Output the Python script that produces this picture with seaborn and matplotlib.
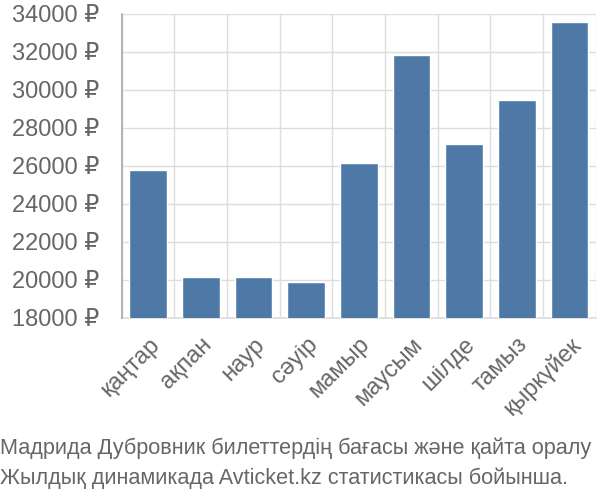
import matplotlib
matplotlib.use("Agg")
import matplotlib.pyplot as plt
import seaborn as sns
import pandas as pd
import numpy as np

months = ["қаңтар", "ақпан", "наур", "сәуір", "мамыр", "маусым", "шілде", "тамыз", "қыркүйек"]
prices = [25800, 20150, 20150, 19900, 26150, 31850, 27150, 29450, 33600]
y_ticks = [18000, 20000, 22000, 24000, 26000, 28000, 30000, 32000, 34000]
title_lines = ["Мадрида Дубровник билеттердің бағасы және қайта оралу",
               "Жылдық динамикада Avticket.kz статистикасы бойынша."]

sns.set_theme(style="white")
plt.rcParams['font.family'] = ['Liberation Sans', 'DejaVu Sans']

text_color = "#666666"
grid_color = "#dddddd"

df = pd.DataFrame({"month": months, "price": prices})

fig = plt.figure(figsize=(6, 5), dpi=100)
ax = fig.add_axes([0.203, 0.364, 0.790, 0.608])

sns.barplot(data=df, x="month", y="price", color="#4e79a7", saturation=1,
            width=0.72, ax=ax, zorder=3)

ax.set_ylim(18000, 34000)
ax.set_xlim(-0.5, len(months) - 0.5)
ax.set_yticks(y_ticks)
ax.set_yticklabels([f"{v} ₽" for v in y_ticks], fontsize=17, color=text_color)
ax.set_xticks(range(len(months)))
ax.set_xticklabels(months, rotation=45, ha="right", rotation_mode="anchor",
                   fontsize=17, color=text_color)
ax.set_xticks(np.arange(-0.5, len(months), 1), minor=True)

ax.tick_params(axis="y", which="major", length=14.5, width=1, color=grid_color, pad=1.5)
ax.tick_params(axis="x", which="major", length=0, pad=11)
ax.tick_params(axis="x", which="minor", length=14.5, width=1, color=grid_color)

ax.grid(axis="y", which="major", color=grid_color, linewidth=1, zorder=0)
ax.grid(axis="x", which="minor", color=grid_color, linewidth=1, zorder=0)
ax.set_axisbelow(True)

for s in ["top", "right"]:
    ax.spines[s].set_visible(False)
ax.spines["left"].set_color("#aaaaaa")
ax.spines["left"].set_bounds(18000, 34000)
ax.spines["bottom"].set_color(grid_color)
ax.spines["left"].set_zorder(4)
ax.set_xlabel("")
ax.set_ylabel("")

fig.text(0.0, 0.074, title_lines[0] + "\n" + title_lines[1], fontsize=15.6,
         color=text_color, ha="left", va="center", linespacing=1.5,
         family=['Liberation Sans Narrow', 'Liberation Sans', 'DejaVu Sans'])

fig.savefig("out.png", dpi=100)
